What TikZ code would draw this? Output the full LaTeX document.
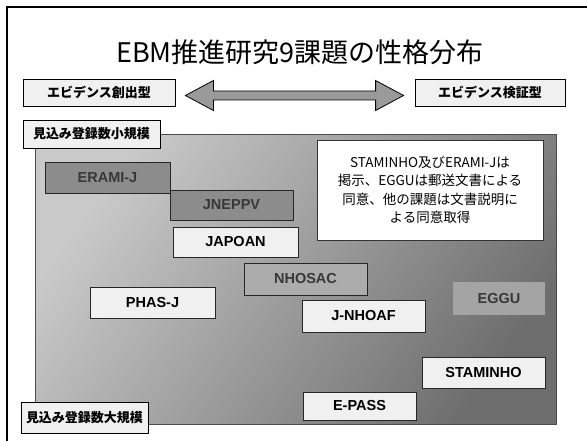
\documentclass[tikz,border=0pt]{standalone}
\usepackage{fontspec}
\setmainfont{Liberation Sans}
\newfontfamily\jp{Noto Sans CJK JP}
\usetikzlibrary{calc}
\definecolor{darkbox}{HTML}{8C8C8C}
\definecolor{midbox}{HTML}{ACACAC}
\definecolor{eggubox}{HTML}{A4A4A4}
\definecolor{lightbox}{HTML}{F0F0F0}
\definecolor{arrowgray}{HTML}{9A9A9A}
\definecolor{fieldlight}{HTML}{CACACA}
\definecolor{fielddark}{HTML}{6E6E6E}
\definecolor{graytext}{HTML}{383838}
\begin{document}
\begin{tikzpicture}[x=1pt,y=-1pt,
  lbl/.style={draw=black, line width=0.8pt, fill=lightbox, inner sep=0pt,
    font=\jp\bfseries\fontsize{13}{15}\selectfont},
  topic/.style={draw=black!85, line width=0.9pt, inner sep=0pt,
    minimum width=124pt, minimum height=31pt,
    font=\bfseries\fontsize{14.5}{16}\selectfont},
  whitetopic/.style={topic, fill=lightbox, text=black},
  darktopic/.style={topic, fill=darkbox, text=graytext},
  midtopic/.style={topic, fill=midbox, text=graytext},
  msgbox/.style={draw=black!80, line width=0.8pt, fill=white, inner sep=0pt,
    align=center, font=\jp\fontsize{13.5}{18.5}\selectfont},
  field/.style={draw=black!70, line width=1pt, inner sep=0pt,
    top color=fieldlight, bottom color=fielddark, shading angle=55}
]
\useasboundingbox (0,0) rectangle (587,441);
\fill[white] (0,0) rectangle (587,441);
\draw[line width=1.6pt] (7,441) -- (7,7) -- (587,7);

\node (title) at (300,52) {\jp\fontsize{27}{31}\selectfont EBM推進研究9課題の性格分布};

\node[lbl, minimum width=152pt, minimum height=27pt] (create) at (99,92.5) {エビデンス創出型};
\node[lbl, minimum width=150pt, minimum height=27pt] (verify) at (490,92.5) {エビデンス検証型};

\coordinate (L) at ($(create.east)+(10,3)$);
\coordinate (R) at ($(verify.west)+(-11,3)$);
\draw[fill=arrowgray, line width=0.8pt, line join=miter]
  (L) -- ($(L)+(28,-15)$) -- ($(L)+(28,-4.5)$) -- ($(R)+(-28,-4.5)$)
  -- ($(R)+(-28,-15)$) -- (R) -- ($(R)+(-28,15)$) -- ($(R)+(-28,4.5)$)
  -- ($(L)+(28,4.5)$) -- ($(L)+(28,15)$) -- cycle;

\node[field, minimum width=521pt, minimum height=289pt] (field) at (295.5,279.5) {};

\node[lbl, minimum width=137pt, minimum height=28pt] (small) at (91.5,134) {見込み登録数小規模};
\node[lbl, minimum width=127pt, minimum height=31pt] (large) at (84.5,418) {見込み登録数大規模};

\node[msgbox, minimum width=226pt, minimum height=100pt] (msg) at (430,190)
  {STAMINHO及びERAMI-Jは\\掲示、EGGUは郵送文書による\\同意、他の課題は文書説明に\\よる同意取得};

\node[darktopic, minimum width=125pt] (erami) at (107.5,177.5) {ERAMI-J};
\node[darktopic, minimum width=123pt, minimum height=30pt] (jneppv) at (231.5,205) {JNEPPV};
\node[whitetopic, minimum width=125pt, minimum height=30pt] (japoan) at (235.5,242) {JAPOAN};
\node[midtopic, minimum width=123pt, minimum height=32pt] (nhosac) at (305.5,279) {NHOSAC};
\node[whitetopic, minimum width=125pt] (phas) at (152.5,302.5) {PHAS-J};
\node[topic, draw=none, fill=eggubox, text=graytext, minimum width=92pt, minimum height=33pt] (eggu) at (499,298.5) {EGGU};
\node[whitetopic, minimum width=123pt, minimum height=32pt] (jnhoaf) at (363.5,316) {J-NHOAF};
\node[whitetopic, minimum width=123pt] (stam) at (483.5,372.5) {STAMINHO};
\node[whitetopic, minimum width=113pt, minimum height=28pt] (epass) at (359.5,406) {E-PASS};
\end{tikzpicture}
\end{document}
